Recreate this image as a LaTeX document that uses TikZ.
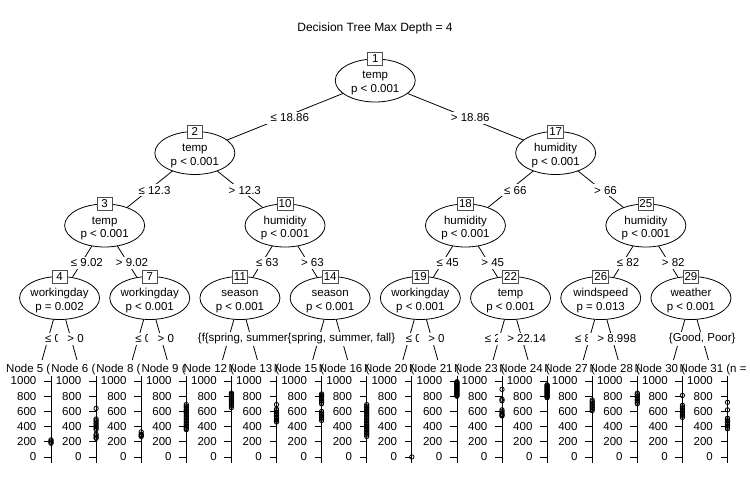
\documentclass[tikz,border=0pt]{standalone}
\usepackage{fontspec}
\setmainfont{Liberation Sans}
\usetikzlibrary{shapes.geometric,calc}
\newcommand\inode[6]{%
  \node[ell] (e#1) at (#2,#3) {};
  \node[idbox] (b#1) at (#2,{#3-21.5}) {#4};
  \node[anchor=base] (v#1) at (#2,{#3-1.5}) {#5};
  \node[anchor=base] (p#1) at (#2,{#3+12}) {#6};
}
\newcommand\elab[4][]{\node[elabel,#1] (lab-#2-#3) at ($(#2)!0.5!(#3)$) {#4};}
\newcommand\leafpanel[5]{%
  \pgfmathsetmacro\ax{#2+14}
  \node[anchor=base west] (title#1) at (#4,372) {#3};
  \draw[thinline] (\ax,376) -- (\ax,463);
  \foreach \t in {0,200,...,1000}{
    \draw[thinline] ({\ax-7},{457-0.076*\t}) -- (\ax,{457-0.076*\t});
    \node[anchor=east] (tl#1-\t) at ({\ax-14.5},{457-0.076*\t}) {\t};
  }
  \foreach \v in {#5} \draw[thinline] (\ax,{457-0.076*\v}) circle[radius=2.2pt];
}
\begin{document}
\begin{tikzpicture}[x=1pt,y=-1pt,
  font=\fontsize{11.5}{13}\selectfont,
  every node/.style={inner sep=0pt},
  ell/.style={ellipse,draw,fill=white,minimum width=80pt,minimum height=43pt,inner sep=0pt,line width=0.8pt},
  idbox/.style={draw=black!70,fill=white,minimum width=15pt,minimum height=13pt,inner xsep=1.5pt,line width=0.8pt},
  edgeline/.style={line width=0.8pt},
  thinline/.style={line width=0.8pt},
  elabel/.style={fill=white,inner xsep=0pt,inner ysep=2pt,yshift=-1pt}]
\useasboundingbox[fill=white] (0,0) rectangle (750,500);
\node (maintitle) at (375,28) {\fontsize{12}{14}\selectfont Decision Tree Max Depth = 4};
% leaf targets
\coordinate (l5) at (37,378);
\coordinate (l6) at (82.1,378);
\coordinate (l8) at (127.2,378);
\coordinate (l9) at (172.3,378);
\coordinate (l12) at (217.4,378);
\coordinate (l13) at (262.5,378);
\coordinate (l15) at (307.6,378);
\coordinate (l16) at (352.7,378);
\coordinate (l20) at (397.8,378);
\coordinate (l21) at (442.9,378);
\coordinate (l23) at (488,378);
\coordinate (l24) at (533.1,378);
\coordinate (l27) at (578.2,378);
\coordinate (l28) at (623.3,378);
\coordinate (l30) at (668.4,378);
\coordinate (l31) at (713.5,378);
% inner node centres
\coordinate (c1) at (375.25,80.5);
\coordinate (c2) at (194.85,153);
\coordinate (c17) at (555.65,153);
\coordinate (c3) at (104.65,225.5);
\coordinate (c10) at (285.05,225.5);
\coordinate (c18) at (465.45,225.5);
\coordinate (c25) at (645.85,225.5);
\coordinate (c4) at (59.55,298);
\coordinate (c7) at (149.75,298);
\coordinate (c11) at (239.95,298);
\coordinate (c14) at (330.15,298);
\coordinate (c19) at (420.35,298);
\coordinate (c22) at (510.55,298);
\coordinate (c26) at (600.75,298);
\coordinate (c29) at (690.95,298);
% edges
\foreach \a/\b in {c1/c2,c1/c17,c2/c3,c2/c10,c17/c18,c17/c25,c3/c4,c3/c7,c10/c11,c10/c14,c18/c19,c18/c22,c25/c26,c25/c29,
  c4/l5,c4/l6,c7/l8,c7/l9,c11/l12,c11/l13,c14/l15,c14/l16,c19/l20,c19/l21,c22/l23,c22/l24,c26/l27,c26/l28,c29/l30,c29/l31}
  \draw[edgeline] (\a) -- (\b);
% edge labels (in drawing order)
\elab{c1}{c2}{\phantom{0} ≤ 18.86}
\elab{c2}{c3}{\phantom{0} ≤ 12.3}
\elab{c3}{c4}{\phantom{0} ≤ 9.02}
\elab{c4}{l5}{\phantom{0} ≤ 0}
\elab{c4}{l6}{\phantom{0} > 0}
\elab{c3}{c7}{\phantom{0} > 9.02}
\elab{c7}{l8}{\phantom{0} ≤ 0}
\elab{c7}{l9}{\phantom{0} > 0}
\elab{c2}{c10}{\phantom{0} > 12.3}
\elab{c10}{c11}{\phantom{0} ≤ 63}
\elab[xshift=-1pt]{c11}{l12}{\{fall, winter\}}
\elab[xshift=-3pt]{c11}{l13}{\{spring, summer\}}
\elab{c10}{c14}{\phantom{0} > 63}
\elab{c14}{l16}{\{spring, summer, fall\}}
\elab{c1}{c17}{\phantom{0} > 18.86}
\elab{c17}{c18}{\phantom{0} ≤ 66}
\elab{c18}{c19}{\phantom{0} ≤ 45}
\elab{c19}{l20}{\phantom{0} ≤ 0}
\elab{c19}{l21}{\phantom{0} > 0}
\elab{c18}{c22}{\phantom{0} > 45}
\elab{c22}{l23}{\phantom{0} ≤ 22.14}
\elab{c22}{l24}{\phantom{0} > 22.14}
\elab{c17}{c25}{\phantom{0} > 66}
\elab{c25}{c26}{\phantom{0} ≤ 82}
\elab{c26}{l27}{\phantom{0} ≤ 8.998}
\elab{c26}{l28}{\phantom{0} > 8.998}
\elab{c25}{c29}{\phantom{0} > 82}
\elab{c29}{l31}{\{Good, Poor\}}
% inner nodes
\inode{1}{375.25}{80.5}{1}{temp}{p < 0.001}
\inode{2}{194.85}{153}{2}{temp}{p < 0.001}
\inode{17}{555.65}{153}{17}{humidity}{p < 0.001}
\inode{3}{104.65}{225.5}{3}{temp}{p < 0.001}
\inode{10}{285.05}{225.5}{10}{humidity}{p < 0.001}
\inode{18}{465.45}{225.5}{18}{humidity}{p < 0.001}
\inode{25}{645.85}{225.5}{25}{humidity}{p < 0.001}
\inode{4}{59.55}{298}{4}{workingday}{p = 0.002}
\inode{7}{149.75}{298}{7}{workingday}{p < 0.001}
\inode{11}{239.95}{298}{11}{season}{p < 0.001}
\inode{14}{330.15}{298}{14}{season}{p < 0.001}
\inode{19}{420.35}{298}{19}{workingday}{p < 0.001}
\inode{22}{510.55}{298}{22}{temp}{p < 0.001}
\inode{26}{600.75}{298}{26}{windspeed}{p = 0.013}
\inode{29}{690.95}{298}{29}{weather}{p < 0.001}
% white band where the edges meet the leaf panels
\fill[white] (0,360) rectangle (750,380);
% leaf panels
\leafpanel{5}{37}{Node 5 (}{6}{180,195,210,225}
\leafpanel{6}{82.1}{Node 6 (}{51.1}{640,500,480,460,440,420,400,380,360,300,280,260,245}
\leafpanel{8}{127.2}{Node 8 (}{96.2}{330,300,290,280,270}
\leafpanel{9}{172.3}{Node 9 (}{141.3}{690,670,650,630,610,590,570,550,530,510,490,470,450,430,410,390,370,360}
\leafpanel{12}{217.4}{Node 12 (}{183.4}{840,825,810,790,770,750,730,710,690,670,650}
\leafpanel{13}{262.5}{Node 13 (}{228.5}{690,630,610,590,570,550,530,510,490,470,460}
\leafpanel{15}{307.6}{Node 15 (}{273.6}{830,815,800,780,760,740,720,700,600,580,560,540,520,500,480}
\leafpanel{16}{352.7}{Node 16 (}{318.7}{690,670,650,630,610,590,570,550,530,510,490,470,450,430,410,390,370,350,330,310,290,270}
\leafpanel{20}{397.8}{Node 20 (}{363.8}{0}
\leafpanel{21}{442.9}{Node 21 (}{408.9}{990,980,970,960,950,940,930,920,910,900,890,880,870,860,850,840,830,820,810,800}
\leafpanel{23}{488}{Node 23 (}{454}{890,760,740,620,600,580,560,550,540}
\leafpanel{24}{533.1}{Node 24 (}{499.1}{950,940,930,920,910,900,890,880,870,860,850,840,830,820,810,800,790,780}
\leafpanel{27}{578.2}{Node 27 (}{544.2}{750,730,710,690,670,650,630,610}
\leafpanel{28}{623.3}{Node 28 (}{589.3}{840,820,800,780,760,740,720,700}
\leafpanel{30}{668.4}{Node 30 (}{634.4}{810,680,660,640,620,600,580,560,540,520}
\leafpanel{31}{713.5}{Node 31 (n =}{679.5}{720,620,510,490,470,450,430,410,390,370}
\end{tikzpicture}
\end{document}
